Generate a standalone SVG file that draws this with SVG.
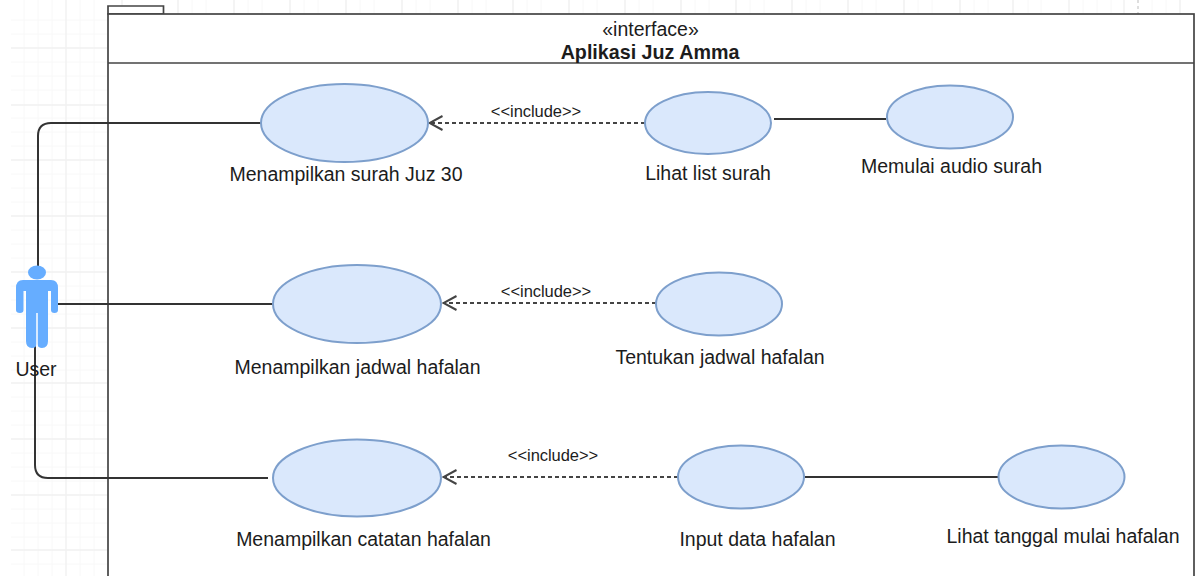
<svg xmlns="http://www.w3.org/2000/svg" width="1198" height="576" viewBox="0 0 1198 576">
<defs>
<style>
text{font-family:"Liberation Sans",Arial,sans-serif;fill:#1c1c1c;text-anchor:middle}
.l{font-size:19.500px}.s{font-size:16.500px;letter-spacing:-.05px}
.uc{fill:#dae8fc;stroke:#7d9fcc;stroke-width:2}
.c{fill:none;stroke:#333;stroke-width:2}
.d{fill:none;stroke:#444;stroke-width:1.8;stroke-dasharray:4 3}
.box{fill:#fff;stroke:#444;stroke-width:1.7}
.gmin{stroke:#f8f8f8;stroke-width:1;fill:none}
.gmaj{stroke:#f1f1f1;stroke-width:1.4;fill:none}
</style>
<marker id="open" markerUnits="userSpaceOnUse" markerWidth="18" markerHeight="18" refX="16.500" refY="9" orient="auto" viewBox="0 0 18 18"><path d="M3 2L16 9L3 16" fill="none" stroke="#444" stroke-width="2"/></marker>
</defs>
<rect width="1198" height="576" fill="#fff"/>
<g id="grid">
<path class="gmin" d="M11 20H107M11 34H107M11 62H107M11 76H107M11 90H107M11 118H107M11 132H107M11 146H107M11 174H107M11 188H107M11 202H107M11 230H107M11 244H107M11 258H107M11 286H107M11 300H107M11 314H107M11 342H107M11 356H107M11 370H107M11 397H107M11 411H107M11 425H107M11 453H107M11 467H107M11 481H107M11 509H107M11 523H107M11 537H107M11 564H107"/>
<path class="gmin" d="M24 0V576M38 0V576M52 0V576M80 0V576M94 0V576M178 0V14M192 0V14M206 0V14M234 0V14M248 0V14M262 0V14M290 0V14M304 0V14M318 0V14M346 0V14M360 0V14M374 0V14M402 0V14M416 0V14M430 0V14M458 0V14M472 0V14M486 0V14M513 0V14M527 0V14M541 0V14M569 0V14M583 0V14M597 0V14M625 0V14M639 0V14M653 0V14M681 0V14M695 0V14M709 0V14M736 0V14M750 0V14M764 0V14M792 0V14M806 0V14M820 0V14M848 0V14M862 0V14M876 0V14M904 0V14M918 0V14M932 0V14M960 0V14M974 0V14M988 0V14M1013 0V14M1028 0V14M1041 0V14M1083 0V14M1097 0V14M1111 0V14M1152 0V14M1166 0V14M1180 0V14"/>
<path class="gmaj" d="M11 48H107M11 105H107M11 160H107M11 216H107M11 272H107M11 328H107M11 383H107M11 439H107M11 495H107M11 550H107"/>
<path class="gmaj" d="M66 0V576M122 0V14M178 0V14M234 0V14M290 0V14M346 0V14M402 0V14M458 0V14M513 0V14M569 0V14M625 0V14M681 0V14M736 0V14M792 0V14M848 0V14M904 0V14M960 0V14M1013 0V14M1069 0V14M1124 0V14M1180 0V14"/>
<path d="M1138 0V14" stroke="#d0d0d0" stroke-width="1.4" stroke-dasharray="3 3" fill="none"/>
</g>
<g id="package">
<path class="box" d="M108 14V6H163.500V14Z"/>
<rect class="box" x="108" y="14" width="1086" height="580"/>
<path class="box" d="M108 63H1194"/>
<text x="650.500" y="36" class="l">«interface»</text>
<text x="650" y="58.500" class="l" font-weight="700" style="font-size:19.700px">Aplikasi Juz Amma</text>
</g>
<g id="connectors">
<path class="c" d="M261 123H51Q38 123 38 136V268"/>
<path class="c" d="M58 304H274"/>
<path class="c" d="M35 346V465Q35 478 48 478H268"/>
<path class="c" d="M774 119H886"/>
<path class="c" d="M805 477H999"/>
<path class="d" d="M645 123H429" marker-end="url(#open)"/>
<path class="d" d="M656 303H443" marker-end="url(#open)"/>
<path class="d" d="M678 477H443" marker-end="url(#open)"/>
<text x="536" y="116.500" class="s">&lt;&lt;include&gt;&gt;</text>
<text x="546" y="296.500" class="s">&lt;&lt;include&gt;&gt;</text>
<text x="553" y="461" class="s">&lt;&lt;include&gt;&gt;</text>
</g>
<g id="actor-user">
<ellipse cx="37" cy="272.500" rx="9" ry="7" fill="#66adff"/>
<path fill="#66adff" d="M23 280H51Q58 280 58 288V310Q58 313 54.500 313Q51 313 51 310V291H48V341Q48 348 42 348Q38 348 37 344Q36 348 32 348Q26 348 26 341V291H23.500V310Q23.500 313 20 313Q16 313 16 310V288Q16 280 23 280Z"/>
<path d="M37 313V348" stroke="#fff" stroke-width="1.500"/>
<text x="36" y="375.500" class="l">User</text>
</g>
<g id="uc-surah"><ellipse class="uc" cx="344.500" cy="123" rx="83.500" ry="39"/><text x="346" y="180.500" class="l">Menampilkan surah Juz 30</text></g>
<g id="uc-list"><ellipse class="uc" cx="708" cy="123" rx="63" ry="31"/><text x="708" y="179.500" class="l">Lihat list surah</text></g>
<g id="uc-audio"><ellipse class="uc" cx="950" cy="117" rx="63" ry="31.500"/><text x="951.500" y="172.500" class="l">Memulai audio surah</text></g>
<g id="uc-jadwal"><ellipse class="uc" cx="357" cy="304" rx="84" ry="39"/><text x="357.500" y="373.500" class="l">Menampilkan jadwal hafalan</text></g>
<g id="uc-tentukan"><ellipse class="uc" cx="719" cy="304" rx="63" ry="31.500"/><text x="720" y="363.500" class="l">Tentukan jadwal hafalan</text></g>
<g id="uc-catatan"><ellipse class="uc" cx="357" cy="478" rx="84" ry="38.500"/><text x="363.500" y="545.500" class="l">Menampilkan catatan hafalan</text></g>
<g id="uc-input"><ellipse class="uc" cx="741" cy="477" rx="63" ry="31.500"/><text x="757.500" y="545.500" class="l">Input data hafalan</text></g>
<g id="uc-tanggal"><ellipse class="uc" cx="1061.500" cy="477" rx="63" ry="31.500"/><text x="1063" y="542.500" class="l">Lihat tanggal mulai hafalan</text></g>
</svg>
